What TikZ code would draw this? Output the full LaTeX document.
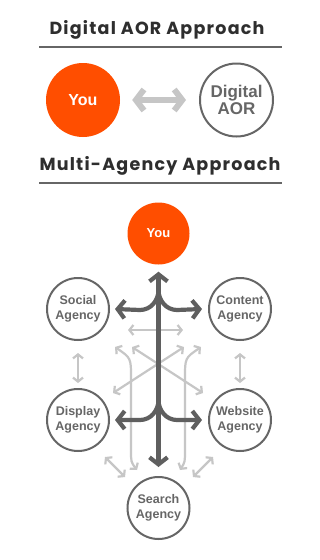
\documentclass[tikz,border=0pt]{standalone}
\usepackage{fontspec}
\setmainfont{Liberation Sans}
\newfontfamily\titlefont[LetterSpace=7]{Poppins}
\usetikzlibrary{arrows.meta}
\definecolor{youorange}{HTML}{FF4E00}
\definecolor{ringgray}{HTML}{666666}
\definecolor{darkarrow}{HTML}{5F5F5F}
\definecolor{lightarrow}{HTML}{C6C6C6}
\definecolor{titlegray}{HTML}{2E2E2E}
\begin{document}
\begin{tikzpicture}[x=1pt,y=-1pt,
  titletext/.style={font=\titlefont\bfseries\fontsize{17.5}{17.5}\selectfont, text=titlegray, inner sep=0pt},
  rule/.style={draw=ringgray, line width=2pt},
  youbig/.style={circle, fill=youorange, minimum size=74pt, inner sep=0pt, text=white, font=\bfseries\fontsize{16}{16}\selectfont},
  yousmall/.style={circle, fill=youorange, minimum size=62pt, inner sep=0pt, text=white, font=\bfseries\fontsize{13}{13}\selectfont},
  ringbig/.style={circle, draw=ringgray, line width=2pt, minimum size=73pt, inner sep=0pt, text=ringgray, align=center, font=\bfseries\fontsize{17}{16.5}\selectfont},
  agency/.style={circle, draw=ringgray, line width=2pt, minimum size=62pt, inner sep=0pt, text=ringgray, align=center, font=\bfseries\fontsize{12.5}{14.5}\selectfont},
  toparrow/.style={draw=lightarrow, line width=6pt, {Straight Barb[length=8pt,width=21pt]}-{Straight Barb[length=8pt,width=21pt]}},
  darkline/.style={draw=darkarrow, line width=4.2pt},
  darktip/.style={-{Straight Barb[length=7pt,width=18pt]}},
  lightline/.style={draw=lightarrow, line width=2.2pt, {Straight Barb[length=4pt,width=10pt]}-{Straight Barb[length=4pt,width=10pt]}}
]
\useasboundingbox (0,0) rectangle (320,560);
\fill[white] (0,0) rectangle (320,560);

% Titles
\node[titletext] (t1) at (157,30) {Digital AOR Approach};
\coordinate (r1a) at (39,47);
\coordinate (r1b) at (282,47);
\draw[rule] (r1a) -- (r1b);
\node[titletext] (t2) at (160,166) {Multi-Agency Approach};
\coordinate (r2a) at (39,183);
\coordinate (r2b) at (282,183);
\draw[rule] (r2a) -- (r2b);

% Digital AOR approach
\node[youbig] (you1) at (83,100) {You};
\node[ringbig] (aor) at (236.5,100) {Digital\\AOR};
\draw[toparrow] ([xshift=12pt]you1.east) -- ([xshift=-13pt]aor.west);

% Multi-agency approach
\node[yousmall] (you2) at (158.5,233.5) {You};
\node[agency] (social) at (78,309) {Social\\Agency};
\node[agency] (content) at (240,309) {Content\\Agency};
\node[agency] (display) at (78,420) {Display\\Agency};
\node[agency] (website) at (240,420) {Website\\Agency};
\node[agency] (search) at (158.5,508) {Search\\Agency};

% light connectors
\coordinate (hL) at (128,330); \coordinate (hR) at (183,330);
\draw[lightline] (hL) -- (hR);
\coordinate (d1a) at (132,347); \coordinate (d1b) at (203,393);
\draw[lightline] (d1a) -- (d1b);
\coordinate (d2a) at (184,347); \coordinate (d2b) at (113,393);
\draw[lightline] (d2a) -- (d2b);
\coordinate (cLa) at (115,347); \coordinate (cLb) at (137,470);
\draw[lightline] (cLa) .. controls (131,358) .. (131,378) -- (131,450) .. controls (131,462) .. (cLb);
\coordinate (cRa) at (201,347); \coordinate (cRb) at (180,470);
\draw[lightline] (cRa) .. controls (185,358) .. (185,378) -- (185,450) .. controls (185,462) .. (cRb);
\draw[lightline] ([yshift=-12pt]social.south) -- ([yshift=5pt]display.north);
\draw[lightline] ([yshift=-12pt]content.south) -- ([yshift=5pt]website.north);
\coordinate (sLa) at (105,457); \coordinate (sLb) at (125,477);
\draw[lightline] (sLa) -- (sLb);
\coordinate (sRa) at (213,457); \coordinate (sRb) at (193,477);
\draw[lightline] (sRa) -- (sRb);

% dark connectors
\coordinate (up1) at (158.5,290); \coordinate (up2) at (158.5,400);
\draw[darkline, darktip] (up1) to[out=-90,in=0] (140,310) -- ([xshift=5pt]social.east);
\draw[darkline, darktip] (up1) to[out=-90,in=180] (177,310) -- ([xshift=-6pt]content.west);
\draw[darkline, darktip] (up2) to[out=-90,in=0] (140,420) -- ([xshift=5pt]display.east);
\draw[darkline, darktip] (up2) to[out=-90,in=180] (177,420) -- ([xshift=-6pt]website.west);
\draw[darkline, {Straight Barb[length=7pt,width=18pt]}-{Straight Barb[length=7pt,width=18pt]}] ([yshift=-7pt]you2.south) -- ([yshift=9pt]search.north);
\end{tikzpicture}
\end{document}
